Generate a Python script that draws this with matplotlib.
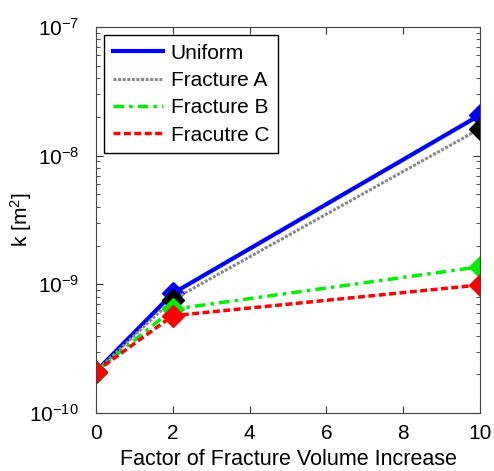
import matplotlib
matplotlib.use('Agg')
import matplotlib.pyplot as plt
from matplotlib.ticker import LogLocator, NullFormatter

plt.rcParams['font.family'] = ['Liberation Sans', 'DejaVu Sans']
plt.rcParams['mathtext.default'] = 'regular'

# data
factor = [0, 2, 10]
uniform = [2.1e-10, 8.5e-10, 2.07e-8]
frac_a = [2.1e-10, 7.6e-10, 1.62e-8]
frac_b = [2.1e-10, 6.4e-10, 1.37e-9]
frac_c = [2.1e-10, 5.7e-10, 9.9e-10]

fig = plt.figure(figsize=(4.94, 4.71), dpi=100)
ax = fig.add_axes([0.194, 0.123, 0.778, 0.820])

ax.plot(factor, uniform, color='#0000ff', lw=3, ls='-', label='Uniform',
        marker='D', ms=11, mfc='#0000ff', mec='#0000ff')
ax.plot(factor, frac_a, color='#8a8a8a', lw=2.2, ls=(0, (1, 0.5)), label='Fracture A',
        marker='D', ms=11, mfc='black', mec='black')
ax.plot(factor, frac_b, color='#00ee00', lw=2.5, ls=(0, (3, 1.5, 1, 1.5)), label='Fracture B',
        marker='D', ms=11, mfc='#00ee00', mec='#00ee00')
ax.plot(factor, frac_c, color='#ff0000', lw=2.5, ls=(0, (2, 1)), label='Fracutre C',
        marker='D', ms=11, mfc='#ff0000', mec='#ff0000')

ax.set_yscale('log')
ax.set_xlim(0, 10)
ax.set_ylim(1e-10, 1e-7)
ax.set_xticks([0, 2, 4, 6, 8, 10])
ax.yaxis.set_major_locator(LogLocator(base=10, numticks=10))
ax.yaxis.set_minor_locator(LogLocator(base=10, subs=range(2, 10), numticks=10))
ax.yaxis.set_minor_formatter(NullFormatter())
ax.tick_params(which='both', direction='in', top=True, right=True,
               labelsize=15, color='#333333')
ax.tick_params(which='major', length=5)
ax.tick_params(which='minor', length=3)
ax.tick_params(axis='x', pad=8)
ax.tick_params(axis='y', pad=12)
for s in ax.spines.values():
    s.set_color('#444444')

ax.set_xlabel('Factor of Fracture Volume Increase', fontsize=15.5)
ax.set_ylabel('k [m$^2$]', fontsize=15)
ax.xaxis.set_label_coords(0.5, -0.094)
ax.yaxis.set_label_coords(-0.16, 0.5)

leg = ax.legend(loc='upper left', fontsize=15, fancybox=False, framealpha=1,
                edgecolor='black', handlelength=2.4, borderaxespad=0.4,
                labelspacing=0.4, handletextpad=0.4, borderpad=0.4)
leg.get_frame().set_linewidth(1)
for h in leg.legend_handles:
    h.set_marker('')

fig.savefig('out.png', dpi=100)
